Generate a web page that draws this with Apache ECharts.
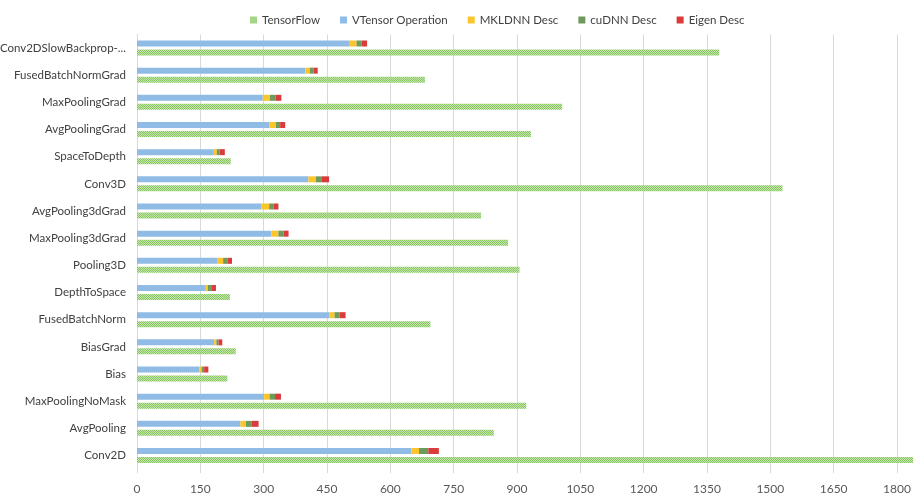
<!DOCTYPE html>
<html>
<head>
<meta charset="utf-8">
<script src="https://cdn.jsdelivr.net/npm/echarts@6/dist/echarts.min.js"></script>
<style>html,body{margin:0;padding:0;background:#fff}#c{width:913px;height:495px}</style>
</head>
<body>
<div id="c"></div>
<script>
// Categories, top to bottom as shown
const categories = ["Conv2DSlowBackprop-...","FusedBatchNormGrad","MaxPoolingGrad","AvgPoolingGrad","SpaceToDepth","Conv3D","AvgPooling3dGrad","MaxPooling3dGrad","Pooling3D","DepthToSpace","FusedBatchNorm","BiasGrad","Bias","MaxPoolingNoMask","AvgPooling","Conv2D"];
const tensorFlow = [1379,682,1007,933,222,1529,815,879,906,220,695,234,214,922,845,1850];
const vtensorOp  = [504,399,298,314,182,406,294,318,191,163,456,183,148,301,245,650];
const mkldnnDesc = [16,10,17,15,7,18,19,17,13,5,12,5,5,13,13,18];
const cudnnDesc  = [12,9,13,10,7,14,11,12,11,8,12,5,6,13,14,22];
const eigenDesc  = [13,10,14,12,12,17,11,12,10,11,14,9,10,14,16,25];
const xTicks = [0,150,300,450,600,750,900,1050,1200,1350,1500,1650,1800];
const seriesNames = ["TensorFlow","VTensor Operation","MKLDNN Desc","cuDNN Desc","Eigen Desc"];

// fine checker pattern for TensorFlow
const pc = document.createElement('canvas');
pc.width = 2; pc.height = 2;
const g = pc.getContext('2d');
g.fillStyle = '#c6e6b0'; g.fillRect(0,0,2,2);
g.fillStyle = '#86c45e'; g.fillRect(0,0,1,1); g.fillRect(1,1,1,1);
const tfPattern = {image: pc, repeat: 'repeat'};

const chart = echarts.init(document.getElementById('c'), null, {renderer: 'canvas'});
const font = 'Lato, "Open Sans", sans-serif';
const bw = 6;
function stackSeries(name, data, color) {
  return {name: name, type: 'bar', stack: 'vt', data: data, barWidth: bw, barGap: '50%',
    itemStyle: {color: color}, emphasis: {disabled: true}};
}
chart.setOption({
  animation: false,
  textStyle: {fontFamily: font},
  legend: {
    top: 9, left: 245, itemWidth: 7, itemHeight: 7, itemGap: 20,
    icon: 'rect',
    textStyle: {fontSize: 11.5, color: '#404040', fontFamily: font},
    data: seriesNames
  },
  grid: {left: 137, right: 0, top: 34.4, bottom: 25.9, containLabel: false, outerBoundsMode: 'none'},
  xAxis: {
    type: 'value', min: 0, max: 1838, interval: 150,
    axisLine: {show: false},
    axisTick: {show: true, length: 4, lineStyle: {color: '#d9d9d9'}},
    splitLine: {lineStyle: {color: '#d9d9d9', width: 1}},
    axisLabel: {color: '#595959', fontSize: 12, margin: 14, showMaxLabel: false,
      formatter: function (v) { return xTicks.indexOf(v) >= 0 ? String(v) : ''; }}
  },
  yAxis: {
    type: 'category', data: categories, inverse: true,
    axisLine: {show: true, lineStyle: {color: '#d9d9d9'}},
    axisTick: {show: false},
    axisLabel: {color: '#404040', fontSize: 11.5, margin: 11}
  },
  series: [
    stackSeries(seriesNames[1], vtensorOp, '#8fbbe4'),
    stackSeries(seriesNames[2], mkldnnDesc, '#fcc52b'),
    stackSeries(seriesNames[3], cudnnDesc, '#6f9a5c'),
    stackSeries(seriesNames[4], eigenDesc, '#dc3b3b'),
    {name: seriesNames[0], type: 'bar', data: tensorFlow, barWidth: bw, barGap: '50%',
      itemStyle: {color: tfPattern}, emphasis: {disabled: true}}
  ]
});
</script>
</body>
</html>
